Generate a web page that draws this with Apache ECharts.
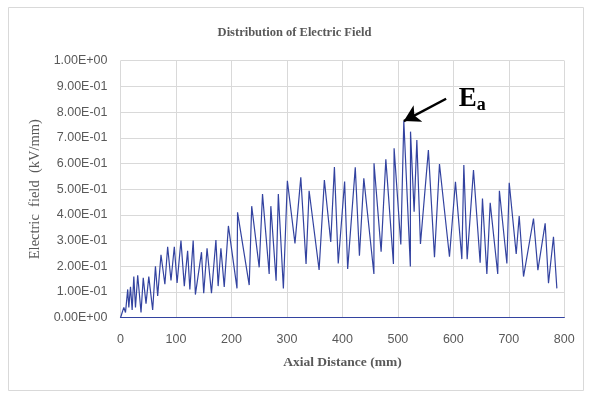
<!DOCTYPE html>
<html>
<head>
<meta charset="utf-8">
<script src="https://cdn.jsdelivr.net/npm/echarts@6/dist/echarts.min.js"></script>
<style>
  html, body { margin: 0; padding: 0; background: #ffffff; }
  #chart { width: 589px; height: 397px; }
</style>
</head>
<body>
<div id="chart"></div>
<script>
// Axial position along the insulator (mm)
const axialDistance = [
  0, 6, 9, 13, 15, 18, 21, 24, 27, 31, 37, 41, 46, 51, 58, 63, 67, 73, 80, 85,
  91, 97, 102, 109, 115, 121, 125, 131, 135, 146, 150, 156, 164, 172, 176, 181, 187, 194.5, 210, 211,
  232, 236.5, 250, 256, 268, 271, 280.5, 284.5, 293.6, 300.8, 314.5, 325, 334.5, 340, 358, 367.5, 379, 385.6, 392.5, 404,
  409.5, 423.2, 430.7, 438.6, 456.8, 457, 469.8, 478.3, 492, 493.2, 505.3, 510.7, 522.5, 522.8, 529.3, 534.2, 540.7, 555, 566, 575,
  593, 603.8, 615.3, 618.9, 624.9, 636.3, 648.3, 652.5, 660.4, 666.4, 680, 683, 696.5, 700.7, 713.3, 718.7, 726.5, 744.5, 752.4, 765.5,
  771.5, 780.5, 786.6
];

// Electric field magnitude at each position (kV/mm)
const electricField = [
  0, 0.04, 0.02, 0.11, 0.04, 0.12, 0.03, 0.16, 0.04, 0.165, 0.02, 0.155, 0.055, 0.16, 0.03, 0.2, 0.085, 0.245, 0.13, 0.276,
  0.145, 0.276, 0.135, 0.30, 0.123, 0.26, 0.11, 0.30, 0.09, 0.255, 0.095, 0.27, 0.095, 0.302, 0.123, 0.27, 0.12, 0.357, 0.114, 0.41,
  0.127, 0.434, 0.196, 0.481, 0.17, 0.434, 0.144, 0.481, 0.114, 0.533, 0.289, 0.546, 0.209, 0.494, 0.186, 0.536, 0.295, 0.586, 0.211, 0.53,
  0.19, 0.585, 0.241, 0.542, 0.17, 0.601, 0.257, 0.616, 0.209, 0.659, 0.285, 0.765, 0.199, 0.724, 0.412, 0.691, 0.287, 0.652, 0.235, 0.598,
  0.237, 0.529, 0.228, 0.594, 0.228, 0.575, 0.214, 0.464, 0.17, 0.447, 0.17, 0.494, 0.211, 0.525, 0.248, 0.396, 0.16, 0.386, 0.185, 0.367,
  0.134, 0.315, 0.114
];

// Axis ranges and steps
const xAxisRange = [0, 800];
const xAxisStep = 100;
const yAxisRange = [0, 1];
const yAxisStep = 0.1;

// Peak field E_a and the tail of the arrow pointing at it
const peakPoint = [510.7, 0.765];
const arrowTail = [587, 0.852];
const peakLabelAt = [634, 0.85];

const seriesData = axialDistance.map((x, i) => [x, electricField[i]]);

function sci(v) {
  if (v === 0) return '0.00E+00';
  const e = Math.floor(Math.log10(v) + 1e-9);
  const m = v / Math.pow(10, e);
  return m.toFixed(2) + 'E' + (e < 0 ? '-' : '+') + String(Math.abs(e)).padStart(2, '0');
}

const chart = echarts.init(document.getElementById('chart'), null, { renderer: 'canvas' });

const gray = '#595959';
const gridGray = '#d9d9d9';
const lineBlue = '#3343a0';

chart.setOption({
  backgroundColor: '#ffffff',
  animation: false,
  graphic: [{
    type: 'rect',
    shape: { x: 8.5, y: 7.5, width: 575, height: 383 },
    style: { fill: 'none', stroke: '#d9d9d9', lineWidth: 1 },
    silent: true
  }],
  title: {
    text: 'Distribution of Electric Field',
    left: 'center',
    top: 21,
    textStyle: {
      fontFamily: 'Liberation Serif',
      fontWeight: 'bold',
      fontSize: 12.5,
      color: gray
    }
  },
  grid: { left: 120.5, right: 24.7, top: 60.7, bottom: 79.3 },
  xAxis: {
    type: 'value',
    min: xAxisRange[0],
    max: xAxisRange[1],
    interval: xAxisStep,
    name: 'Axial Distance (mm)',
    nameLocation: 'middle',
    nameGap: 38,
    nameTextStyle: {
      fontFamily: 'Liberation Serif',
      fontWeight: 'bold',
      fontSize: 13.5,
      color: gray
    },
    axisLine: { show: true, lineStyle: { color: lineBlue, width: 1.2 } },
    axisTick: { show: false },
    axisLabel: { fontFamily: 'Liberation Sans', fontSize: 12.5, color: gray, margin: 15 },
    splitLine: { show: true, lineStyle: { color: gridGray, width: 1 } }
  },
  yAxis: {
    type: 'value',
    min: yAxisRange[0],
    max: yAxisRange[1],
    interval: yAxisStep,
    name: 'Electric  field  (kV/mm)',
    nameLocation: 'middle',
    nameGap: 76,
    nameTextStyle: {
      fontFamily: 'Liberation Serif',
      fontSize: 14.5,
      color: gray
    },
    axisLine: { show: false },
    axisTick: { show: false },
    axisLabel: {
      fontFamily: 'Liberation Sans',
      fontSize: 12.5,
      color: gray,
      margin: 13,
      formatter: sci
    },
    splitLine: { show: true, lineStyle: { color: gridGray, width: 1 } }
  },
  series: [{
    type: 'line',
    data: seriesData,
    showSymbol: false,
    lineStyle: { color: lineBlue, width: 1.2 },
    itemStyle: { color: lineBlue },
    markLine: {
      silent: true,
      symbol: ['none', 'arrow'],
      symbolSize: [14, 16],
      lineStyle: { color: '#000000', width: 2.5, type: 'solid' },
      label: { show: false },
      data: [[{ coord: arrowTail }, { coord: peakPoint }]]
    },
    markPoint: {
      silent: true,
      symbol: 'circle',
      symbolSize: 0,
      data: [{ coord: peakLabelAt }],
      label: {
        show: true,
        formatter: '{e|E}{a|a}',
        rich: {
          e: { fontFamily: 'Liberation Serif', fontWeight: 'bold', fontSize: 27, color: '#000000' },
          a: { fontFamily: 'Liberation Serif', fontWeight: 'bold', fontSize: 18, color: '#000000', padding: [12, 0, 0, 0] }
        }
      }
    }
  }]
});
</script>
</body>
</html>
